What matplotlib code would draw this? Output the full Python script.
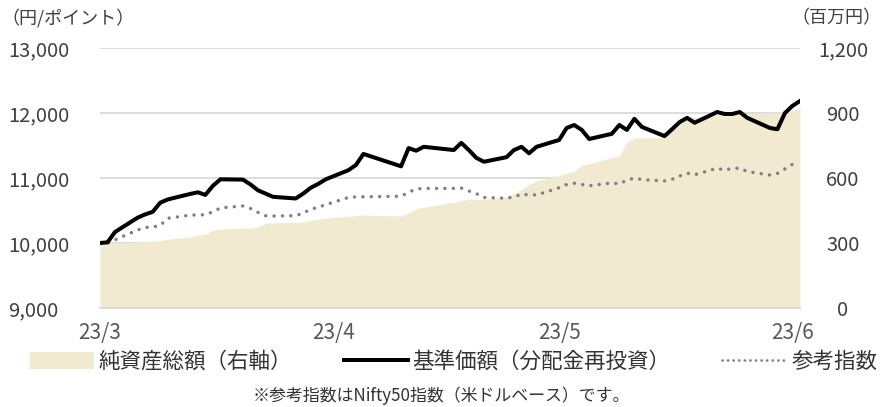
import matplotlib
matplotlib.use("Agg")
import matplotlib.pyplot as plt
from matplotlib.lines import Line2D
from matplotlib.patches import Patch
import pandas as pd

plt.rcParams['font.family'] = ['Noto Sans CJK JP', 'DejaVu Sans']

dates = ["03-01", "03-02", "03-03", "03-06", "03-07", "03-08", "03-09", "03-10",
         "03-13", "03-14", "03-15", "03-16", "03-17", "03-20", "03-21", "03-22",
         "03-23", "03-24", "03-27", "03-28", "03-29", "03-30", "03-31",
         "04-03", "04-04", "04-05", "04-10", "04-11", "04-12", "04-13", "04-17",
         "04-18", "04-19", "04-20", "04-21", "04-24", "04-25", "04-26", "04-27", "04-28",
         "05-01", "05-02", "05-03", "05-04", "05-05", "05-08", "05-09", "05-10",
         "05-11", "05-12", "05-15", "05-16", "05-17", "05-18", "05-19", "05-22",
         "05-23", "05-24", "05-25", "05-26", "05-29", "05-30", "05-31",
         "06-01", "06-02"]

nav = [10000, 10010, 10170, 10390, 10440, 10480, 10620, 10670, 10755, 10780, 10740,
       10880, 10980, 10975, 10900, 10810, 10760, 10710, 10685, 10760, 10850, 10910, 10980,
       11120, 11200, 11370, 11180, 11460, 11420, 11480, 11430, 11540, 11430, 11310, 11250,
       11320, 11430, 11480, 11380, 11480,
       11585, 11770, 11815, 11740, 11600, 11680, 11815, 11740, 11910, 11785, 11645, 11750,
       11860, 11925, 11850, 12015, 11985, 11985, 12015, 11925, 11770, 11750, 12000,
       12110, 12185]

ref_index = [10000, 10000, 10050, 10200, 10240, 10245, 10270, 10380, 10430, 10430, 10435,
             10480, 10540, 10570, 10530, 10470, 10420, 10415, 10420, 10460, 10520, 10550, 10590,
             10700, 10710, 10710, 10720, 10780, 10830, 10840, 10840, 10845, 10800, 10760, 10700,
             10690, 10710, 10750, 10740, 10740,
             10850, 10900, 10920, 10900, 10880, 10925, 10910, 10965, 11000, 10975, 10955, 10980,
             11030, 11075, 11050, 11150, 11120, 11150, 11150, 11100, 11045, 11070, 11140,
             11210, 11225]

net_assets = [300, 300, 301, 303, 305, 308, 312, 318, 328, 337, 340, 360, 365, 369, 369,
              375, 392, 393, 396, 397, 405, 410, 415,
              423, 427, 429, 425, 440, 458, 465, 488, 495, 503, 500, 502, 512, 528, 548, 570, 586,
              612, 622, 630, 660, 665, 695, 702, 766, 785, 785, 787, 825, 868, 875, 880, 892,
              895, 896, 897, 898, 900, 901, 903,
              912, 925]

left_ticks = [9000, 10000, 11000, 12000, 13000]
right_ticks = [0, 300, 600, 900, 1200]
x_tick_dates = ["2023-03-01", "2023-04-01", "2023-05-01", "2023-06-01"]
x_tick_labels = ["23/3", "23/4", "23/5", "23/6"]

x = pd.to_datetime(["2023-" + d for d in dates])

W, H = 883, 407
fig = plt.figure(figsize=(W / 100, H / 100), dpi=100)
ax1 = fig.add_axes([100 / W, 1 - 308 / H, 700 / W, 260 / H])
ax2 = ax1.twinx()
ax1.set_zorder(2)
ax2.set_zorder(1)
ax1.patch.set_visible(False)

fill_color = "#F2EAD0"
tick_color = "#404040"
grid_color = "#D9D9D9"

# Net assets (right axis)
ax2.fill_between(x, net_assets, 0, color=fill_color, linewidth=0, zorder=2)
ax2.set_ylim(0, 1200)
ax2.set_yticks(right_ticks)
ax2.set_yticklabels([f"{v:,}" for v in right_ticks])
ax2.grid(axis='y', color=grid_color, linewidth=1.3, zorder=0)
ax2.set_axisbelow(True)

# Lines (left axis)
ax1.plot(x, ref_index, color="#808080", linewidth=2.5, linestyle=(0, (0.01, 2.4)),
         dash_capstyle='round', zorder=3)
ax1.plot(x, nav, color="black", linewidth=2.9, zorder=4)
ax1.set_ylim(9000, 13000)
ax1.set_yticks(left_ticks)
ax1.set_yticklabels([f"{v:,}" for v in left_ticks])
ax1.set_xlim(x[0], x[-1])
ax1.set_xticks(pd.to_datetime(x_tick_dates))
ax1.set_xticklabels(x_tick_labels)

for a in (ax1, ax2):
    for s in a.spines.values():
        s.set_visible(False)
ax1.spines['bottom'].set_visible(True)
ax1.spines['bottom'].set_color(grid_color)
ax1.spines['bottom'].set_linewidth(1.3)

ax1.tick_params(axis='both', length=0, colors=tick_color, labelsize=14.5)
ax1.tick_params(axis='x', pad=10, labelcolor="#595959", labelsize=15)
ax1.tick_params(axis='y', pad=66)
for lbl in ax1.get_yticklabels():
    lbl.set_horizontalalignment('left')
ax2.tick_params(axis='y', length=0, colors=tick_color, labelsize=14.5, pad=31)
for lbl in ax2.get_yticklabels():
    lbl.set_horizontalalignment('center')

fig.text(1 / W, 1 - 18 / H, "（円/ポイント）", ha='left', va='center', fontsize=13, color=tick_color)
fig.text(881 / W, 1 - 18 / H, "（百万円）", ha='right', va='center', fontsize=13, color=tick_color)

handles = [Patch(facecolor=fill_color, edgecolor='none'),
           Line2D([], [], color='black', linewidth=2.9),
           Line2D([], [], color='#808080', linewidth=2.0, linestyle=(0, (0.01, 2.0)),
                  dash_capstyle='round')]
labels = ["純資産総額（右軸）", "基準価額（分配金再投資）", "参考指数"]
fig.legend(handles, labels, loc='center', bbox_to_anchor=(0.5136, 1 - 362 / H), ncol=3,
           frameon=False, fontsize=15.5, handlelength=3.0, handletextpad=0.2,
           columnspacing=2.4, handleheight=0.85, labelcolor="#333333")

fig.text(0.5, 1 - 396 / H, "※参考指数はNifty50指数（米ドルベース）です。", ha='center', va='center',
         fontsize=12.2, color="#333333")

fig.savefig("out.png", dpi=100)
